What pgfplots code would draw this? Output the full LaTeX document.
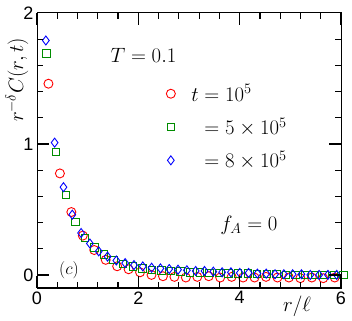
\documentclass[border=0pt]{standalone}
\usepackage{fontspec}
\setsansfont{Liberation Sans}
\usepackage{pgfplots}
\pgfplotsset{compat=1.18}
\definecolor{mgreen}{RGB}{0,140,0}
\newcommand\bigtxt{\fontsize{20}{22}\selectfont}
\newcommand\midtxt{\fontsize{18}{20}\selectfont}
\newcommand\ticktxt{\sffamily\fontsize{18}{20}\selectfont}

\begin{document}
\begin{tikzpicture}
\path[use as bounding box] (0,0) rectangle (352pt,320pt);
\begin{axis}[
  at={(37pt,32pt)}, anchor=south west,
  width=304pt, height=275pt, scale only axis,
  xmin=0, xmax=6, ymin=-0.1, ymax=2,
  xtick={0,2,4,6}, ytick={0,1,2},
  minor xtick={0.4,0.8,...,5.6}, minor ytick={0.2,0.4,...,1.8},
  tickwidth=12pt, subtickwidth=6pt,
  axis line style={line width=1pt},
  major tick style={draw=black, line width=1pt},
  minor tick style={draw=black, line width=1pt},
  tick label style={font=\ticktxt},
  /pgf/number format/assume math mode=true,
  clip=false,
  legend style={draw=none, fill=none, at={(0.415,0.755)}, anchor=north west,
    font=\bigtxt, row sep=11pt, column sep=14pt},
  legend cell align=left,
]
\addplot[only marks, mark=o, red, mark size=4.5pt, line width=0.9pt] coordinates {
(0.226,1.46) (0.452,0.775) (0.678,0.48) (0.904,0.30) (1.130,0.19) (1.356,0.115)
(1.582,0.066) (1.808,0.043) (2.034,0.02) (2.260,0.0) (2.486,-0.01) (2.712,-0.015)
(2.938,-0.02) (3.164,-0.015) (3.390,-0.01) (3.616,-0.02) (3.842,-0.015) (4.068,-0.02)
(4.294,-0.02) (4.520,-0.015) (4.746,-0.02) (4.972,-0.02) (5.198,-0.025) (5.424,-0.02)
(5.650,-0.025) (5.876,-0.02)
};
\addlegendentry{$t = 10^5$}
\addplot[only marks, mark=square, mgreen, mark size=3.7pt, line width=0.9pt] coordinates {
(0.189,1.69) (0.378,0.94) (0.567,0.61) (0.756,0.405) (0.945,0.28) (1.134,0.21)
(1.323,0.155) (1.512,0.115) (1.701,0.085) (1.890,0.065) (2.079,0.05) (2.268,0.04)
(2.457,0.035) (2.646,0.03) (2.835,0.025) (3.024,0.02) (3.213,0.02) (3.402,0.015)
(3.591,0.015) (3.780,0.01) (3.969,0.01) (4.158,0.01) (4.347,0.005) (4.536,0.005)
(4.725,0.005) (4.914,0.0) (5.103,0.0) (5.292,0.0) (5.481,0.0) (5.670,0.0)
(5.859,0.0) (6.048,0.0)
};
\addlegendentry{$\phantom{t} = 5\times 10^5$}
\addplot[only marks, mark=diamond, blue, mark size=4.5pt, line width=0.9pt] coordinates {
(0.174,1.79) (0.348,1.01) (0.522,0.67) (0.696,0.46) (0.870,0.32) (1.044,0.24)
(1.218,0.18) (1.392,0.14) (1.566,0.11) (1.740,0.09) (1.914,0.075) (2.088,0.065)
(2.262,0.055) (2.436,0.05) (2.610,0.045) (2.784,0.04) (2.958,0.035) (3.132,0.03)
(3.306,0.03) (3.480,0.025) (3.654,0.02) (3.828,0.02) (4.002,0.015) (4.176,0.015)
(4.350,0.01) (4.524,0.01) (4.698,0.005) (4.872,0.005) (5.046,0.005) (5.220,0.005)
(5.394,0.0) (5.568,0.0) (5.742,0.0) (5.916,0.0)
};
\addlegendentry{$\phantom{t} = 8\times 10^5$}
\end{axis}
% tick marks on all four sides as thin filled bars (axis box: x 37..341pt, y 32..307pt)
\begin{scope}[black]
\foreach \k in {0,2,4,6} {
  \fill ({36.4pt+\k*50.6667pt},32pt) rectangle ++(1.2pt,12pt);
  \fill ({36.4pt+\k*50.6667pt},307pt) rectangle ++(1.2pt,-12pt);
}
\foreach \k in {0.4,0.8,1.2,1.6,2.4,2.8,3.2,3.6,4.4,4.8,5.2,5.6} {
  \fill ({36.4pt+\k*50.6667pt},32pt) rectangle ++(1.2pt,6pt);
  \fill ({36.4pt+\k*50.6667pt},307pt) rectangle ++(1.2pt,-6pt);
}
\foreach \v in {0,1} {
  \fill (37pt,{31.4pt+(\v+0.1)*130.9524pt}) rectangle ++(12pt,1.2pt);
  \fill (341pt,{31.4pt+(\v+0.1)*130.9524pt}) rectangle ++(-12pt,1.2pt);
}
\foreach \v in {0.2,0.4,0.6,0.8,1.2,1.4,1.6,1.8} {
  \fill (37pt,{31.4pt+(\v+0.1)*130.9524pt}) rectangle ++(6pt,1.2pt);
  \fill (341pt,{31.4pt+(\v+0.1)*130.9524pt}) rectangle ++(-6pt,1.2pt);
}
\end{scope}
% text labels, placed in picture points (1pt = 1px of the reference)
\node[font=\bigtxt] at (143.5pt,265pt) {$T = 0.1$};
\node[font=\bigtxt] at (249pt,95pt) {$f_A = 0$};
\node[font=\midtxt] at (69pt,50pt) {$(c)$};
\node[font=\bigtxt] at (297pt,14pt) {$r/\ell$};
\node[font=\bigtxt, rotate=90] at (17pt,240pt) {$r^{-\delta}C(r,t)$};
\end{tikzpicture}
\end{document}
